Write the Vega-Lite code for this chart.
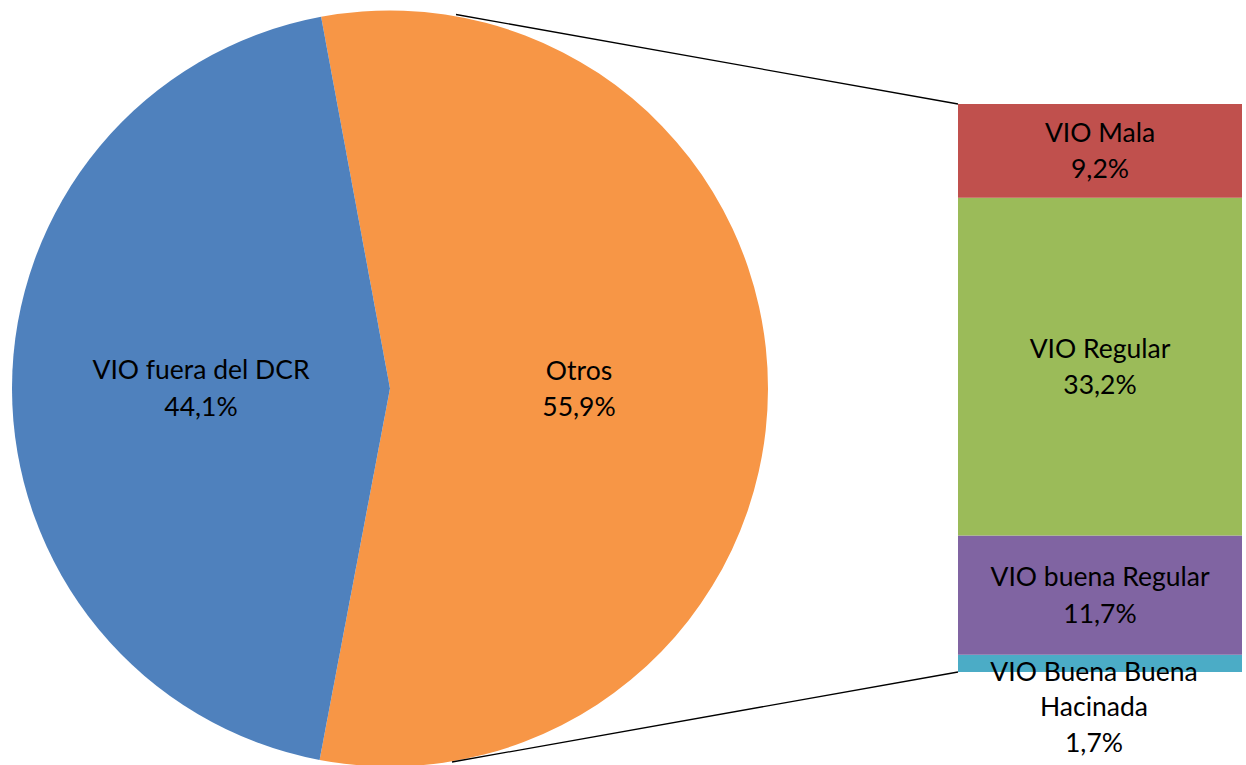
{
  "$schema": "https://vega.github.io/schema/vega-lite/v6.json",
  "width": 1246,
  "height": 765,
  "padding": 0,
  "autosize": {"type": "none"},
  "background": "white",
  "config": {"view": {"stroke": null}, "font": "Lato", "text": {"font": "Lato", "fontSize": 26.5, "lineHeight": 36.5, "color": "#000000", "lineBreak": "\n"}},
  "datasets": {
    "pie": [
      {"name": "Otros", "value": 55.9, "label": "Otros\n55,9%", "order": 1},
      {"name": "VIO fuera del DCR", "value": 44.1, "label": "VIO fuera del DCR\n44,1%", "order": 2}
    ],
    "bar": [
      {"name": "VIO Buena Buena Hacinada", "value": 1.7, "label": "VIO Buena Buena\nHacinada\n1,7%", "order": 1},
      {"name": "VIO buena Regular", "value": 11.7, "label": "VIO buena Regular\n11,7%", "order": 2},
      {"name": "VIO Regular", "value": 33.2, "label": "VIO Regular\n33,2%", "order": 3},
      {"name": "VIO Mala", "value": 9.2, "label": "VIO Mala\n9,2%", "order": 4}
    ]
  },
  "layer": [
    {
      "layer": [
        {
          "data": {"name": "pie"},
          "mark": {"type": "arc", "outerRadius": 378},
          "encoding": {
            "theta": {"field": "value", "type": "quantitative", "stack": true, "scale": {"domain": [0, 100], "range": [-0.1833, 6.0999]}},
            "order": {"field": "order", "type": "quantitative"},
            "color": {"field": "name", "type": "nominal", "legend": null, "scale": {"domain": ["VIO fuera del DCR", "Otros", "VIO Mala", "VIO Regular", "VIO buena Regular", "VIO Buena Buena Hacinada"], "range": ["#4F81BD", "#F79646", "#C0504D", "#9BBB59", "#8064A2", "#4BACC6"]}},
            "x": {"datum": 390, "type": "quantitative", "scale": {"domain": [0, 1246], "nice": false, "zero": false}, "axis": null},
            "y": {"datum": 388.5, "type": "quantitative", "scale": {"domain": [0, 765], "nice": false, "zero": false, "reverse": true}, "axis": null}
          }
        },
        {
          "data": {"name": "pie"},
          "mark": {"type": "text", "radius": 189, "align": "center", "baseline": "middle", "dy": -17},
          "encoding": {
            "theta": {"field": "value", "type": "quantitative", "stack": true},
            "order": {"field": "order", "type": "quantitative"},
            "text": {"field": "label"},
            "x": {"datum": 390, "type": "quantitative"},
            "y": {"datum": 388.5, "type": "quantitative"}
          }
        },
        {
          "data": {"values": [{}]},
          "mark": {"type": "rule", "color": "#000000", "strokeWidth": 1.3},
          "encoding": {
            "x": {"datum": 456, "type": "quantitative"},
            "y": {"datum": 14.5, "type": "quantitative"},
            "x2": {"datum": 958},
            "y2": {"datum": 104}
          }
        },
        {
          "data": {"values": [{}]},
          "mark": {"type": "rule", "color": "#000000", "strokeWidth": 1.3},
          "encoding": {
            "x": {"datum": 452, "type": "quantitative"},
            "y": {"datum": 762, "type": "quantitative"},
            "x2": {"datum": 958},
            "y2": {"datum": 672}
          }
        }
      ]
    },
    {
      "data": {"name": "bar"},
      "transform": [
        {"stack": "value", "groupby": [], "sort": [{"field": "order", "order": "ascending"}], "as": ["y0", "y1"]},
        {"calculate": "(datum.y0 + datum.y1) / 2", "as": "ymid"}
      ],
      "layer": [
        {
          "mark": {"type": "rect"},
          "encoding": {
            "x": {"datum": 958, "type": "quantitative"},
            "x2": {"datum": 1242},
            "y": {"field": "y0", "type": "quantitative", "scale": {"domain": [-9.14, 66.02], "nice": false, "zero": false}, "axis": null},
            "y2": {"field": "y1"},
            "color": {"field": "name", "type": "nominal", "legend": null}
          }
        },
        {
          "transform": [{"filter": "datum.name !== 'VIO Buena Buena Hacinada'"}],
          "mark": {"type": "text", "align": "center", "baseline": "middle", "dy": -17},
          "encoding": {
            "x": {"datum": 1100, "type": "quantitative"},
            "y": {"field": "ymid", "type": "quantitative"},
            "text": {"field": "label"}
          }
        },
        {
          "transform": [{"filter": "datum.name === 'VIO Buena Buena Hacinada'"}],
          "mark": {"type": "text", "align": "center", "baseline": "top", "dy": 5, "lineHeight": 35.5},
          "encoding": {
            "x": {"datum": 1094, "type": "quantitative"},
            "y": {"field": "y1", "type": "quantitative"},
            "text": {"field": "label"}
          }
        }
      ]
    }
  ],
  "resolve": {"scale": {"y": "independent"}}
}
